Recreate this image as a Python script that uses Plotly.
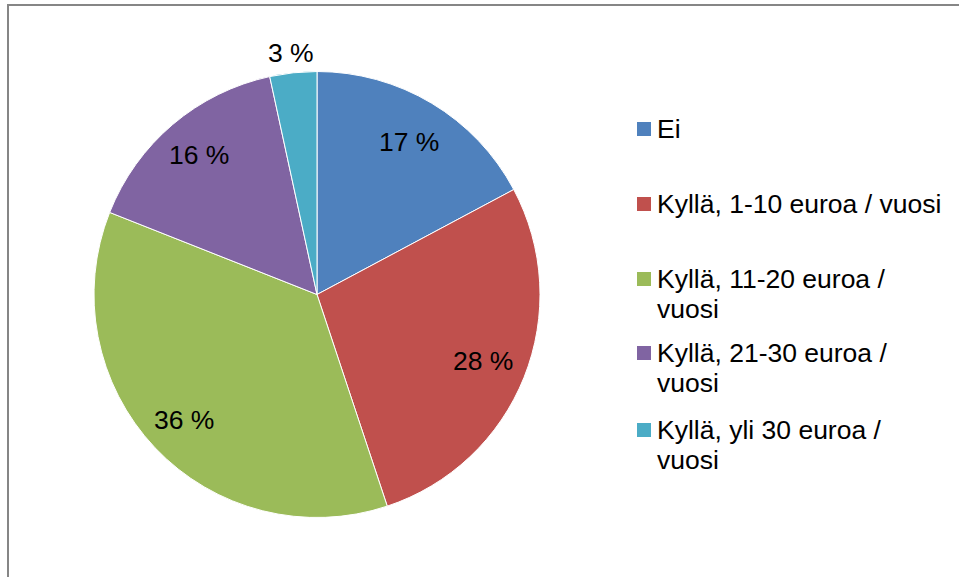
import math
import plotly.graph_objects as go

categories = ["Ei", "Kyllä, 1-10 euroa / vuosi", "Kyllä, 11-20 euroa / vuosi",
              "Kyllä, 21-30 euroa / vuosi", "Kyllä, yli 30 euroa / vuosi"]
legend_lines = [["Ei"], ["Kyllä, 1-10 euroa / vuosi"], ["Kyllä, 11-20 euroa /", "vuosi"],
                ["Kyllä, 21-30 euroa /", "vuosi"], ["Kyllä, yli 30 euroa /", "vuosi"]]
values = [17.2, 27.7, 36.1, 15.6, 3.4]
colors = ["#4F81BD", "#C0504D", "#9BBB59", "#8064A2", "#4BACC6"]
label_radius = [0.8, 0.8, 0.82, 0.82, 1.09]

W, H = 959, 577
FONT = "Liberation Sans, Arial, sans-serif"
FS = 26.5
cx, cy, r = 317, 294.5, 223

fig = go.Figure(go.Pie(
    labels=categories, values=values, sort=False, direction="clockwise", rotation=0,
    marker=dict(colors=colors, line=dict(color="white", width=1)),
    textinfo="none",
    domain=dict(x=[(cx - r) / W, (cx + r) / W], y=[1 - (cy + r) / H, 1 - (cy - r) / H]),
    showlegend=False, hoverinfo="label+percent",
))

annotations = []
# data labels at slice mid-angles
total = sum(values)
cum = 0.0
for v, f in zip(values, label_radius):
    mid = (cum + v / 2) / total * 2 * math.pi
    cum += v
    d = f * r
    annotations.append(dict(text=f"{round(v)} %", xref="paper", yref="paper",
                            x=(cx + d * math.sin(mid)) / W, y=1 - (cy - d * math.cos(mid)) / H,
                            xanchor="center", yanchor="middle", showarrow=False,
                            font=dict(family=FONT, size=FS, color="black")))

# custom legend
legend_y = [129, 204, 279, 353, 430]
LINE = 30
shapes = [dict(type="rect", xref="paper", yref="paper", x0=8 / W, x1=1.05, y0=-0.05, y1=1 - 5 / H,
               line=dict(color="#868686", width=2), fillcolor="rgba(0,0,0,0)")]
for lines, c, yy in zip(legend_lines, colors, legend_y):
    shapes.append(dict(type="rect", xref="paper", yref="paper",
                       x0=637 / W, x1=651 / W, y0=1 - (yy + 7) / H, y1=1 - (yy - 7) / H,
                       fillcolor=c, line=dict(width=0)))
    for k, t in enumerate(lines):
        annotations.append(dict(text=t, xref="paper", yref="paper", x=655 / W,
                                y=1 - (yy + k * LINE) / H,
                                xanchor="left", yanchor="middle", align="left", showarrow=False,
                                font=dict(family=FONT, size=FS, color="black")))

fig.update_layout(width=W, height=H, margin=dict(l=0, r=0, t=0, b=0),
                  paper_bgcolor="white", plot_bgcolor="white",
                  shapes=shapes, annotations=annotations)
fig.write_html("out.html", config={"displayModeBar": False},
               post_script="document.body.style.margin='0';")
